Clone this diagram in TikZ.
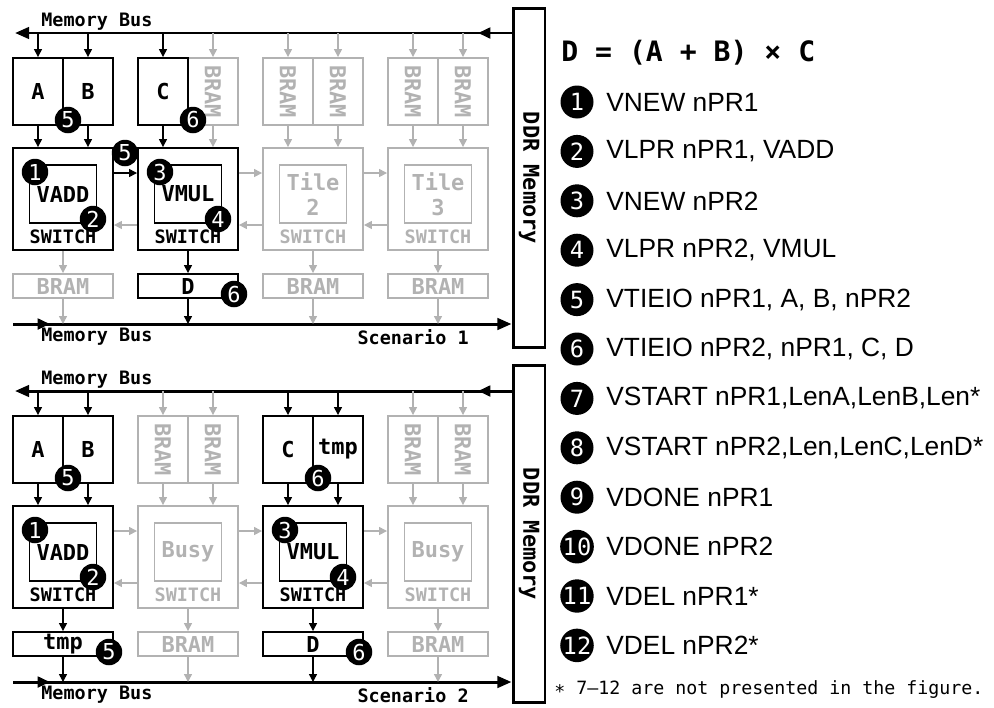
\documentclass[tikz,border=0pt]{standalone}
\usepackage{fontspec}
\setmainfont{Liberation Sans}
\newfontfamily\monof{DejaVu Sans Mono}
\usetikzlibrary{arrows.meta}
\definecolor{lg}{RGB}{178,178,178}
\begin{document}
\begin{tikzpicture}[x=0.02cm,y=-0.02cm,
  bigf/.style={font=\monof\bfseries\fontsize{12.5}{14}\selectfont},
  smf/.style={font=\monof\bfseries\fontsize{10.5}{12}\selectfont},
  bhalf/.style={draw=black, line width=1.1pt, minimum width=1cm, minimum height=1.34cm, inner sep=0pt, bigf},
  ghalf/.style={bhalf, draw=lg, text=lg},
  grot/.style={rotate=-90, bigf, text=lg, inner sep=0pt},
  btile/.style={draw=black, line width=1.1pt, minimum width=2cm, minimum height=2.04cm, inner sep=0pt},
  gtile/.style={btile, draw=lg},
  binner/.style={draw=black, line width=1.1pt, minimum width=1.34cm, minimum height=1.16cm, inner sep=0pt, bigf, align=center},
  ginner/.style={binner, draw=lg, text=lg},
  bsw/.style={smf, inner sep=0pt},
  gsw/.style={bsw, text=lg},
  bbram/.style={draw=black, line width=1.1pt, minimum width=2cm, minimum height=0.48cm, inner sep=0pt, bigf},
  gbram/.style={bbram, draw=lg, text=lg},
  barr/.style={draw=black, line width=0.8pt, -{Triangle[length=4.5pt,width=4.5pt]}},
  garr/.style={barr, draw=lg, color=lg},
  bus/.style={draw=black, line width=1.7pt},
  endtip/.style={-{Triangle[length=8pt,width=6.5pt]}},
  midtip/.style={-{Triangle[length=7pt,width=6pt]}},
  ddr/.style={draw=black, line width=1.7pt, minimum width=0.64cm, inner sep=0pt},
  ddrtxt/.style={rotate=-90, bigf, inner sep=0pt},
  bustxt/.style={smf, inner sep=0pt},
  badge/.style={circle, fill=black, text=white, minimum size=0.53cm, inner sep=0pt, font=\monof\fontsize{12.5}{12}\selectfont},
  lbadge/.style={circle, fill=black, text=white, minimum size=0.66cm, inner sep=0pt, font=\monof\fontsize{13.5}{14}\selectfont},
  ltxt/.style={anchor=west, inner sep=0pt, font=\fontsize{15}{18}\selectfont}
]
\useasboundingbox (0,0) rectangle (994,707);

%================ Scenario 1 =================
\coordinate (s1busT) at (15,33);
\coordinate (s1busB) at (13,324);
\node[ddr, minimum height=6.8cm] (s1ddr) at (529,178) {};
\node[ddrtxt] (s1ddrt) at (s1ddr.center) {DDR Memory};
\draw[bus,endtip] (s1ddr.west |- s1busT) -- (s1busT);
\coordinate (s1midT) at (478,33);
\draw[bus,midtip] (s1ddr.west |- s1busT) -- (s1midT);
\draw[bus,endtip] (s1busB) -- (s1busB -| s1ddr.west);
\coordinate (s1midB) at (50,324);
\draw[bus,midtip] (s1busB) -- (s1midB);
\node[bustxt, anchor=west] (s1lblT) at (41,22) {Memory Bus};
\node[bustxt, anchor=west] (s1lblB) at (41,337) {Memory Bus};
\node[bustxt, anchor=east] (s1scn) at (469,337) {Scenario 1};

% top row
\node[ghalf] (s1G1) at (213,91.5) {}; \node[grot] (s1G1t) at (s1G1.center) {BRAM};
\node[ghalf] (s1G2) at (288,91.5) {}; \node[grot] (s1G2t) at (s1G2.center) {BRAM};
\node[ghalf] (s1G3) at (338,91.5) {}; \node[grot] (s1G3t) at (s1G3.center) {BRAM};
\node[ghalf] (s1G4) at (413,91.5) {}; \node[grot] (s1G4t) at (s1G4.center) {BRAM};
\node[ghalf] (s1G5) at (463,91.5) {}; \node[grot] (s1G5t) at (s1G5.center) {BRAM};
\node[bhalf] (s1A) at (38,91.5) {A};
\node[bhalf] (s1B) at (88,91.5) {B};
\node[bhalf] (s1C) at (163,91.5) {C};

% tiles
\node[btile] (s1T0) at (63,199) {};
\node[binner] (s1I0) at (63,194) {VADD};
\node[bsw] (s1S0) at (63,237) {SWITCH};
\node[btile] (s1T1) at (188,199) {};
\node[binner] (s1I1) at (188,194) {VMUL};
\node[bsw] (s1S1) at (188,237) {SWITCH};
\node[gtile] (s1T2) at (313,199) {};
\node[ginner] (s1I2) at (313,194) {Tile\\2};
\node[gsw] (s1S2) at (313,237) {SWITCH};
\node[gtile] (s1T3) at (438,199) {};
\node[ginner] (s1I3) at (438,194) {Tile\\3};
\node[gsw] (s1S3) at (438,237) {SWITCH};

% bottom row
\node[gbram] (s1R0) at (63,286) {BRAM};
\node[bbram] (s1R1) at (188,286) {D};
\node[gbram] (s1R2) at (313,286) {BRAM};
\node[gbram] (s1R3) at (438,286) {BRAM};

% arrows bus -> top row
\draw[barr] (s1A.center |- s1busT) -- (s1A.north);
\draw[barr] (s1B.center |- s1busT) -- (s1B.north);
\draw[barr] (s1C.center |- s1busT) -- (s1C.north);
\draw[garr] (s1G1.center |- s1busT) -- (s1G1.north);
\draw[garr] (s1G2.center |- s1busT) -- (s1G2.north);
\draw[garr] (s1G3.center |- s1busT) -- (s1G3.north);
\draw[garr] (s1G4.center |- s1busT) -- (s1G4.north);
\draw[garr] (s1G5.center |- s1busT) -- (s1G5.north);
% top row -> tiles
\draw[barr] (s1A.south) -- (s1A.south |- s1T0.north);
\draw[barr] (s1B.south) -- (s1B.south |- s1T0.north);
\draw[barr] (s1C.south) -- (s1C.south |- s1T1.north);
\draw[garr] (s1G1.south) -- (s1G1.south |- s1T1.north);
\draw[garr] (s1G2.south) -- (s1G2.south |- s1T2.north);
\draw[garr] (s1G3.south) -- (s1G3.south |- s1T2.north);
\draw[garr] (s1G4.south) -- (s1G4.south |- s1T3.north);
\draw[garr] (s1G5.south) -- (s1G5.south |- s1T3.north);
% tiles -> bottom row -> bus
\draw[garr] (s1T0.south) -- (s1R0.north);
\draw[barr] (s1T1.south) -- (s1R1.north);
\draw[garr] (s1T2.south) -- (s1R2.north);
\draw[garr] (s1T3.south) -- (s1R3.north);
\draw[garr] (s1R0.south) -- (s1R0.south |- s1busB);
\draw[barr] (s1R1.south) -- (s1R1.south |- s1busB);
\draw[garr] (s1R2.south) -- (s1R2.south |- s1busB);
\draw[garr] (s1R3.south) -- (s1R3.south |- s1busB);
% inter-tile
\draw[barr] ([yshift=0.52cm]s1T0.east) -- ([yshift=0.52cm]s1T1.west);
\draw[garr] ([yshift=-0.52cm]s1T1.west) -- ([yshift=-0.52cm]s1T0.east);
\draw[garr] ([yshift=0.52cm]s1T1.east) -- ([yshift=0.52cm]s1T2.west);
\draw[garr] ([yshift=-0.52cm]s1T2.west) -- ([yshift=-0.52cm]s1T1.east);
\draw[garr] ([yshift=0.52cm]s1T2.east) -- ([yshift=0.52cm]s1T3.west);
\draw[garr] ([yshift=-0.52cm]s1T3.west) -- ([yshift=-0.52cm]s1T2.east);
% badges
\node[badge] (s1b5a) at (68,120) {5};
\node[badge] (s1b6a) at (193,120) {6};
\node[badge] (s1b1) at (35,172) {1};
\node[badge] (s1b2) at (93,219) {2};
\node[badge] (s1b5b) at (125,153) {5};
\node[badge] (s1b3) at (160,172) {3};
\node[badge] (s1b4) at (218,219) {4};
\node[badge] (s1b6b) at (234,294) {6};

%================ Scenario 2 =================
\coordinate (s2busT) at (15,391);
\coordinate (s2busB) at (13,682);
\node[ddr, minimum height=6.76cm] (s2ddr) at (529,534) {};
\node[ddrtxt] (s2ddrt) at (s2ddr.center) {DDR Memory};
\draw[bus,endtip] (s2ddr.west |- s2busT) -- (s2busT);
\coordinate (s2midT) at (478,391);
\draw[bus,midtip] (s2ddr.west |- s2busT) -- (s2midT);
\draw[bus,endtip] (s2busB) -- (s2busB -| s2ddr.west);
\coordinate (s2midB) at (50,682);
\draw[bus,midtip] (s2busB) -- (s2midB);
\node[bustxt, anchor=west] (s2lblT) at (41,380) {Memory Bus};
\node[bustxt, anchor=west] (s2lblB) at (41,695) {Memory Bus};
\node[bustxt, anchor=east] (s2scn) at (469,695) {Scenario 2};

% top row
\node[ghalf] (s2G1) at (163,449.5) {}; \node[grot] (s2G1t) at (s2G1.center) {BRAM};
\node[ghalf] (s2G2) at (213,449.5) {}; \node[grot] (s2G2t) at (s2G2.center) {BRAM};
\node[ghalf] (s2G4) at (413,449.5) {}; \node[grot] (s2G4t) at (s2G4.center) {BRAM};
\node[ghalf] (s2G5) at (463,449.5) {}; \node[grot] (s2G5t) at (s2G5.center) {BRAM};
\node[bhalf] (s2A) at (38,449.5) {A};
\node[bhalf] (s2B) at (88,449.5) {B};
\node[bhalf] (s2C) at (288,449.5) {C};
\node[bhalf] (s2X) at (338,449.5) {tmp};

% tiles
\node[btile] (s2T0) at (63,557) {};
\node[binner] (s2I0) at (63,552) {VADD};
\node[bsw] (s2S0) at (63,595) {SWITCH};
\node[gtile] (s2T1) at (188,557) {};
\node[ginner] (s2I1) at (188,552) {Busy};
\node[gsw] (s2S1) at (188,595) {SWITCH};
\node[btile] (s2T2) at (313,557) {};
\node[binner] (s2I2) at (313,552) {VMUL};
\node[bsw] (s2S2) at (313,595) {SWITCH};
\node[gtile] (s2T3) at (438,557) {};
\node[ginner] (s2I3) at (438,552) {Busy};
\node[gsw] (s2S3) at (438,595) {SWITCH};

% bottom row
\node[bbram] (s2R0) at (63,644) {tmp};
\node[gbram] (s2R1) at (188,644) {BRAM};
\node[bbram] (s2R2) at (313,644) {D};
\node[gbram] (s2R3) at (438,644) {BRAM};

% arrows bus -> top row
\draw[barr] (s2A.center |- s2busT) -- (s2A.north);
\draw[barr] (s2B.center |- s2busT) -- (s2B.north);
\draw[garr] (s2G1.center |- s2busT) -- (s2G1.north);
\draw[garr] (s2G2.center |- s2busT) -- (s2G2.north);
\draw[barr] (s2C.center |- s2busT) -- (s2C.north);
\draw[barr] (s2X.center |- s2busT) -- (s2X.north);
\draw[garr] (s2G4.center |- s2busT) -- (s2G4.north);
\draw[garr] (s2G5.center |- s2busT) -- (s2G5.north);
% top row -> tiles
\draw[barr] (s2A.south) -- (s2A.south |- s2T0.north);
\draw[barr] (s2B.south) -- (s2B.south |- s2T0.north);
\draw[garr] (s2G1.south) -- (s2G1.south |- s2T1.north);
\draw[garr] (s2G2.south) -- (s2G2.south |- s2T1.north);
\draw[barr] (s2C.south) -- (s2C.south |- s2T2.north);
\draw[barr] (s2X.south) -- (s2X.south |- s2T2.north);
\draw[garr] (s2G4.south) -- (s2G4.south |- s2T3.north);
\draw[garr] (s2G5.south) -- (s2G5.south |- s2T3.north);
% tiles -> bottom row -> bus
\draw[barr] (s2T0.south) -- (s2R0.north);
\draw[garr] (s2T1.south) -- (s2R1.north);
\draw[barr] (s2T2.south) -- (s2R2.north);
\draw[garr] (s2T3.south) -- (s2R3.north);
\draw[barr] (s2R0.south) -- (s2R0.south |- s2busB);
\draw[garr] (s2R1.south) -- (s2R1.south |- s2busB);
\draw[barr] (s2R2.south) -- (s2R2.south |- s2busB);
\draw[garr] (s2R3.south) -- (s2R3.south |- s2busB);
% inter-tile
\draw[garr] ([yshift=0.52cm]s2T0.east) -- ([yshift=0.52cm]s2T1.west);
\draw[garr] ([yshift=-0.52cm]s2T1.west) -- ([yshift=-0.52cm]s2T0.east);
\draw[garr] ([yshift=0.52cm]s2T1.east) -- ([yshift=0.52cm]s2T2.west);
\draw[garr] ([yshift=-0.52cm]s2T2.west) -- ([yshift=-0.52cm]s2T1.east);
\draw[garr] ([yshift=0.52cm]s2T2.east) -- ([yshift=0.52cm]s2T3.west);
\draw[garr] ([yshift=-0.52cm]s2T3.west) -- ([yshift=-0.52cm]s2T2.east);
% badges
\node[badge] (s2b5a) at (68,478) {5};
\node[badge] (s2b6a) at (318,478) {6};
\node[badge] (s2b1) at (35,530) {1};
\node[badge] (s2b2) at (93,577) {2};
\node[badge] (s2b3) at (285,530) {3};
\node[badge] (s2b4) at (343,577) {4};
\node[badge] (s2b5b) at (109,652) {5};
\node[badge] (s2b6b) at (359,652) {6};

%================ Legend =================
\node[anchor=west, inner sep=0pt, font=\monof\bfseries\fontsize{16}{18}\selectfont] (title) at (561,53) {D = (A + B) × C};
\node[lbadge] (l1) at (577,102) {1};    \node[ltxt] (t1) at (606,102) {VNEW nPR1};
\node[lbadge] (l2) at (577,151.4) {2};  \node[ltxt] (t2) at (606,151.4) {VLPR nPR1, VADD};
\node[lbadge] (l3) at (577,200.8) {3};  \node[ltxt] (t3) at (606,200.8) {VNEW nPR2};
\node[lbadge] (l4) at (577,250.2) {4};  \node[ltxt] (t4) at (606,250.2) {VLPR nPR2, VMUL};
\node[lbadge] (l5) at (577,299.6) {5};  \node[ltxt] (t5) at (606,299.6) {VTIEIO nPR1, A, B, nPR2};
\node[lbadge] (l6) at (577,349) {6};    \node[ltxt] (t6) at (606,349) {VTIEIO nPR2, nPR1, C, D};
\node[lbadge] (l7) at (577,398.4) {7};  \node[ltxt] (t7) at (606,398.4) {VSTART nPR1,LenA,LenB,Len*};
\node[lbadge] (l8) at (577,447.8) {8};  \node[ltxt] (t8) at (606,447.8) {VSTART nPR2,Len,LenC,LenD*};
\node[lbadge] (l9) at (577,497.2) {9};  \node[ltxt] (t9) at (606,497.2) {VDONE nPR1};
\node[lbadge] (l10) at (577,546.6) {10}; \node[ltxt] (t10) at (606,546.6) {VDONE nPR2};
\node[lbadge] (l11) at (577,596) {11};  \node[ltxt] (t11) at (606,596) {VDEL nPR1*};
\node[lbadge] (l12) at (577,645.4) {12}; \node[ltxt] (t12) at (606,645.4) {VDEL nPR2*};
\node[anchor=west, inner sep=0pt, font=\monof\fontsize{10.4}{12}\selectfont] (foot) at (554,690) {∗ 7–12 are not presented in the figure.};
\end{tikzpicture}
\end{document}
